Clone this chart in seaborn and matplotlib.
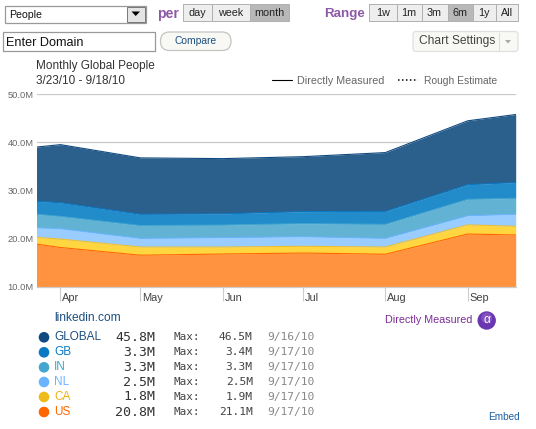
import numpy as np
import pandas as pd
import matplotlib
matplotlib.use("Agg")
import matplotlib.pyplot as plt
import matplotlib.dates as mdates
from matplotlib.patches import Rectangle, FancyBboxPatch, Circle, Polygon
from matplotlib.transforms import ScaledTranslation
import seaborn as sns

dates = ["2010-03-23", "2010-04-01", "2010-05-01", "2010-06-01",
         "2010-07-01", "2010-08-01", "2010-09-01", "2010-09-19"]
us = [18.9, 18.2, 16.6, 16.85, 17.05, 16.8, 21.0, 20.8]
ca = [1.4, 1.75, 1.7, 1.45, 1.4, 1.5, 1.9, 1.8]
nl = [2.0, 2.15, 1.8, 1.95, 2.0, 1.8, 1.9, 2.5]
india = [2.8, 2.55, 2.65, 2.6, 2.7, 2.9, 3.4, 3.3]
gb = [2.7, 2.85, 2.35, 2.35, 2.5, 2.7, 3.05, 3.3]
global_total = [39.05, 39.55, 36.8, 36.65, 37.05, 37.9, 44.5, 45.8]

month_ticks = ["2010-04-01", "2010-05-01", "2010-06-01", "2010-07-01", "2010-08-01", "2010-09-01"]
month_labels = ["Apr", "May", "Jun", "Jul", "Aug", "Sep"]
y_ticks = [10, 20, 30, 40, 50]

legend_names = ["GLOBAL", "GB", "IN", "NL", "CA", "US"]
legend_current = ["45.8M", "3.3M", "3.3M", "2.5M", "1.8M", "20.8M"]
legend_max = ["46.5M", "3.4M", "3.3M", "2.5M", "1.9M", "21.1M"]
legend_when = ["9/16/10", "9/17/10", "9/17/10", "9/17/10", "9/17/10", "9/17/10"]
legend_dots = ["#104a80", "#0a78c2", "#44a6cf", "#6ab4ff", "#eebb18", "#ff6600"]
legend_text = ["#1c4f80", "#0a78c2", "#44a6cf", "#6ab4ff", "#eeb010", "#ff6600"]

fills = ["#ff9340", "#ffd540", "#99ccff", "#62b2d3", "#228ccb", "#2b5f8c"]
edges = ["#ff6600", "#eec030", "#6ab4ff", "#44a6cf", "#0a78c2", "#104a80"]
stack_names = ["US", "CA", "NL", "IN", "GB", "GLOBAL"]

W, H = 536, 429
PX = 0.72  # points per pixel at 100 dpi

sns.set_theme(style="white")
plt.rcParams["font.family"] = ["Liberation Sans", "DejaVu Sans"]
fig = plt.figure(figsize=(W / 100, H / 100), dpi=100, facecolor="white")

# Pixel-addressed layer for the controls and the legend block
ui = fig.add_axes([0, 0, 1, 1], zorder=3)
ui.set_xlim(0, W)
ui.set_ylim(H, 0)
ui.axis("off")
ui.patch.set_alpha(0)


def label(x, y, s, size=11, color="#333333", ha="left", **kw):
    ui.text(x, y, s, fontsize=size * PX, color=color, ha=ha, va="center", **kw)


def button_row(edges_x, y0, y1, names, active):
    for i, name in enumerate(names):
        x0, x1 = edges_x[i], edges_x[i + 1]
        on = name == active
        ui.add_patch(Rectangle((x0, y0), x1 - x0, y1 - y0,
                               fc="#b8b8b8" if on else "#eeeeee", ec="#b0b0b0", lw=0.7))
        label((x0 + x1) / 2, (y0 + y1) / 2 + 0.8, name, size=10.8, color="#222222", ha="center")


# Metric dropdown
ui.add_patch(Rectangle((5, 5.5), 141, 17, fc="white", ec="#999999", lw=0.9))
ui.add_patch(Rectangle((126.5, 6.5), 18.5, 15, fc="#e4e4e4", ec="#777777", lw=0.7))
ui.add_patch(Polygon([[131.5, 11.5], [140, 11.5], [135.7, 16]], fc="black", ec="none"))
label(9, 14.5, "People", size=10.5, color="#111111")

label(157.5, 14, "per", size=14, color="#8d5aa8", fontweight="bold")
button_row([183, 212, 250, 289], 4, 20.5, ["day", "week", "month"], "month")
label(324, 14.5, "Range", size=13.4, color="#8d5aa8", fontweight="bold")
button_row([369, 396.5, 421.5, 447.5, 472.5, 496, 517.5], 4, 20.5,
           ["1w", "1m", "3m", "6m", "1y", "All"], "6m")

# Domain entry and compare controls
ui.add_patch(Rectangle((2.5, 31.5), 152, 19, fc="white", ec="#999999", lw=0.9))
label(6, 42.5, "Enter Domain", size=12.6, color="#111111")
ui.add_patch(FancyBboxPatch((160.5, 32), 70.5, 18.5, boxstyle="round,pad=0,rounding_size=9",
                            fc="#f8f8f4", ec="#c4c4c4", lw=0.9))
label(196, 41.5, "Compare", size=10.2, color="#1c4f80", ha="center")
ui.add_patch(FancyBboxPatch((413, 31.5), 105, 20, boxstyle="round,pad=0,rounding_size=3",
                            fc="#f8f8f5", ec="#e0e0e0", lw=0.9))
label(457, 41, "Chart Settings", size=12, color="#444444", ha="center")
ui.plot([499, 499], [33, 50], color="#dcdcdc", lw=0.8)
ui.add_patch(Polygon([[505, 40], [511, 40], [508, 43.5]], fc="#a8a8a8", ec="none"))

# Chart heading and line-style key
label(35.5, 65.5, "Monthly Global People", size=11.8, color="#333333")
label(35.5, 80.5, "3/23/10 - 9/18/10", size=11.8, color="#333333")
ui.plot([272, 292], [80, 80], color="black", lw=0.8)
label(297, 80.5, "Directly Measured", size=10.8, color="#666666")
ui.plot([398, 418], [80, 80], color="black", lw=1.1, ls=(0, (1, 1.6)))
label(424, 80.5, "Rough Estimate", size=10.2, color="#666666")

# Traffic chart
left, right, top, bottom = 36.5, 515.7, 94.3, 287.0
ax = fig.add_axes([left / W, 1 - bottom / H, (right - left) / W, (bottom - top) / H], zorder=2)
ax.patch.set_alpha(0)

x = mdates.date2num(pd.to_datetime(dates))
bands = np.array([us, ca, nl, india, gb], dtype=float)
upper = np.vstack([np.cumsum(bands, axis=0), global_total])
lower = np.vstack([np.full(len(x), 10.0), upper[:-1]])

for i in range(5, -1, -1):
    ax.fill_between(x, lower[i], upper[i], color=fills[i], lw=0, zorder=2)

frame = pd.DataFrame({
    "date": np.tile(x, 6),
    "people": upper.ravel(),
    "series": np.repeat(stack_names, len(x)),
})
sns.lineplot(data=frame, x="date", y="people", hue="series", hue_order=stack_names,
             palette=edges, lw=0.8, legend=False, ax=ax, zorder=3, errorbar=None)

ax.set_xlim(x[0], x[-1])
ax.set_ylim(10, 50)
ax.set_xlabel("")
ax.set_ylabel("")
for side in ["top", "right", "left"]:
    ax.spines[side].set_visible(False)
ax.spines["bottom"].set_color("#cccccc")
ax.spines["bottom"].set_linewidth(0.9)

ax.set_yticks(y_ticks)
ax.set_yticklabels([f"{v:.1f}M" for v in y_ticks], fontsize=9.4 * PX, color="#666666")
ax.tick_params(axis="y", length=0, pad=2)
ax.yaxis.grid(True, color="#c8c8c8", lw=0.9, zorder=0)
ax.set_axisbelow(True)

ax.set_xticks(mdates.date2num(pd.to_datetime(month_ticks)))
ax.set_xticklabels(month_labels, fontsize=11 * PX, color="#444444", ha="left", va="center")
ax.tick_params(axis="x", length=14 * PX, width=0.8, color="#cccccc", bottom=True, pad=0)
shift = ScaledTranslation(2 / 100, 2.8 / 100, fig.dpi_scale_trans)
for t in ax.get_xticklabels():
    t.set_transform(t.get_transform() + shift)

# Per-country legend block
label(54, 318, "linkedin.com", size=12, color="#1c4f80")
rows = [337.3, 352.3, 367.3, 382, 397, 412]
for i, y in enumerate(rows):
    ui.add_patch(Circle((44, y), 5.3, fc=legend_dots[i], ec="none"))
    label(54, y, legend_names[i], size=11.8, color=legend_text[i])
    label(155.5, y, legend_current[i], size=13.2, color="#333333", ha="right", family="DejaVu Sans Mono")
    label(173.5, y, "Max:", size=11, color="#444444", family="DejaVu Sans Mono")
    label(252.7, y, legend_max[i], size=11.3, color="#444444", ha="right", family="DejaVu Sans Mono")
    label(267.5, y, legend_when[i], size=11.3, color="#888888", family="DejaVu Sans Mono")

label(385, 320, "Directly Measured", size=10.8, color="#7b2d96")
ui.add_patch(Circle((486.7, 320.5), 9.2, fc="#6a35b0", ec="none"))
ui.add_patch(Circle((486.7, 318), 5.5, fc="#8a5cc8", ec="none", alpha=0.7))
label(486.7, 320, "α", size=12, color="white", ha="center")
label(488, 417.5, "Embed", size=10, color="#1c5f9f")

fig.savefig("out.png", dpi=100)
